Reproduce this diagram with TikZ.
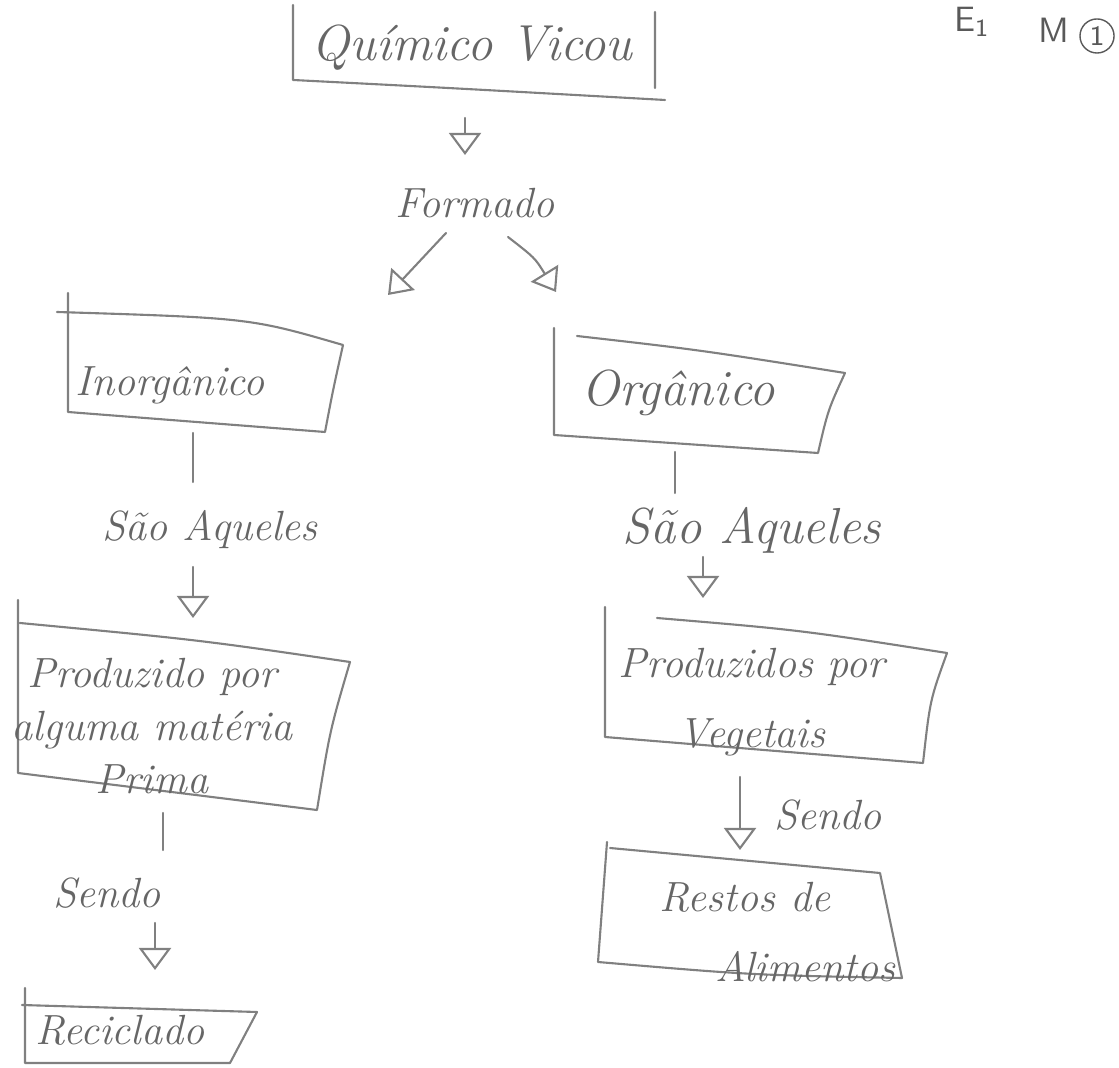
\documentclass[tikz,border=0pt]{standalone}
\usetikzlibrary{arrows.meta}
\begin{document}
\begin{tikzpicture}[x=0.01cm,y=-0.01cm,line join=round,line cap=round,
	>={Triangle[open,length=2.2mm,width=3.2mm]},
	pencil/.style={draw=black!50,line width=0.6pt},
	txt/.style={text=black!60,font=\large\itshape,inner sep=1pt,align=center}]
	\useasboundingbox (0,0) rectangle (1119,1068);
	% cantos das caixas
	\draw[pencil] (293,5) -- (293,80) .. controls (450,88) .. (665,100) (655,12) -- (655,88);
	\draw[pencil] (68,293) -- (68,412) -- (325,432) .. controls (333,390) .. (343,345) .. controls (250,318) .. (57,312);
	\draw[pencil] (554,328) -- (554,435) -- (818,453) .. controls (828,410) .. (845,373) .. controls (700,350) .. (577,336);
	\draw[pencil] (18,600) -- (18,773) -- (317,810) .. controls (330,730) .. (350,662) .. controls (200,640) .. (20,623);
	\draw[pencil] (605,607) -- (605,737) -- (923,763) .. controls (930,700) .. (947,653) .. controls (800,630) .. (657,618);
	\draw[pencil] (25,988) -- (25,1063) -- (230,1063) -- (257,1012) -- (22,1005);
	\draw[pencil] (607,842) -- (598,962) .. controls (750,975) .. (902,978) -- (880,873) -- (610,848);
	% textos
	\node[txt,font=\Large\itshape] (quim) at (472,48) {Químico Vicou};
	\node[txt] (form) at (475,203) {Formado};
	\node[txt] (inorg) at (170,385) {Inorgânico};
	\node[txt,font=\Large\itshape] (organ) at (678,393) {Orgânico};
	\node[txt] (saoi) at (210,530) {São Aqueles};
	\node[txt,font=\Large\itshape] (saoo) at (752,530) {São Aqueles};
	\node[txt] (prodi) at (152,726) {Produzido por\\[1pt]alguma matéria\\[1pt]Prima};
	\node[txt] (prodo) at (752,702) {Produzidos por\\[6pt]Vegetais};
	\node[txt] (sendoi) at (107,893) {Sendo};
	\node[txt] (sendoo) at (828,815) {Sendo};
	\node[txt] (recic) at (120,1030) {Reciclado};
	\node[txt] (restos) at (745,932) {Restos de\\[6pt]\hspace*{1.2cm}Alimentos};
	\node[text=black!65,font=\sffamily] (e1) at (972,22) {E\textsubscript{1}};
	\node[text=black!65,font=\sffamily] (m1) at (1054,30) {M};
	\node[draw=black!65,circle,inner sep=1pt,text=black!65,font=\sffamily\footnotesize] (n1) at (1097,36) {1};
	% ligacoes
	\path (465,118) coordinate (q1) (465,155) coordinate (q2)
	(446,233) coordinate (l1) (388,295) coordinate (l2)
	(508,237) coordinate (r1) (556,292) coordinate (r2);
	\draw[pencil,->] (q1) -- (q2);
	\draw[pencil,->] (l1) -- (l2);
	\draw[pencil,->] (r1) .. controls (535,258) .. (r2);
	\foreach \a/\b/\x in {433/482/193,813/850/163,452/493/675}
	{\draw[pencil] (\x,\a) coordinate (a\x) -- (\x,\b) coordinate (b\x);}
	\foreach \a/\b/\x in {567/618/193,923/970/155,557/598/703,777/850/740}
	{\draw[pencil,->] (\x,\a) coordinate (c\x) -- (\x,\b) coordinate (d\x);}
\end{tikzpicture}
\end{document}
